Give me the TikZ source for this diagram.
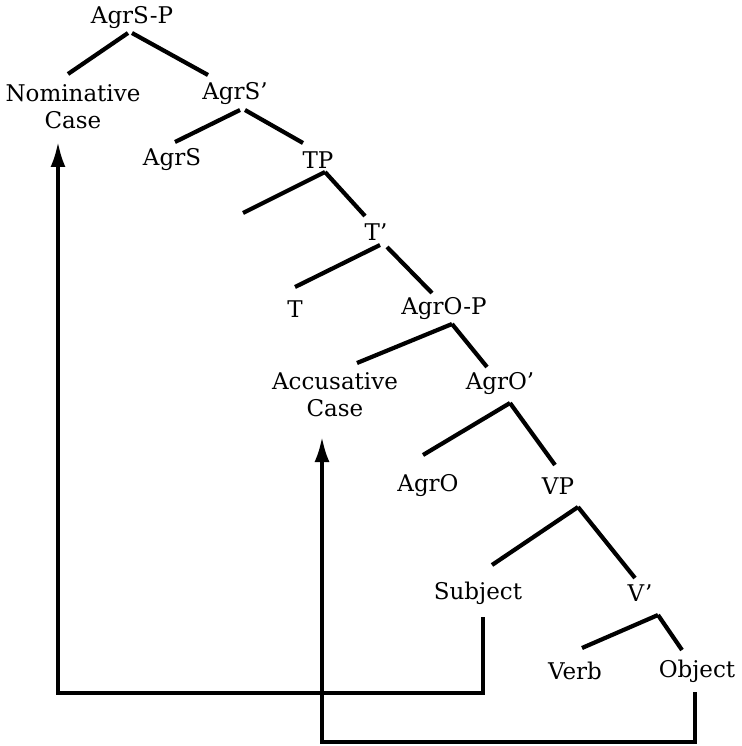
\documentclass[tikz,border=0pt]{standalone}
\usepackage{fontspec}
\setmainfont{DejaVu Serif}
\usetikzlibrary{arrows.meta,calc}
\begin{document}
\begin{tikzpicture}[x=1pt,y=-1pt,
  lbl/.style={inner sep=0pt,anchor=center,align=center,font=\fontsize{23}{27}\selectfont},
  branch/.style={line width=4.2pt},
  movearrow/.style={line width=3.4pt,-{Latex[length=25pt,width=15pt]}}]
\useasboundingbox (0,0) rectangle (741,746);
% nodes
\node[lbl] (AgrSP) at (132,18) {AgrS-P};
\node[lbl] (Nom) at (73,107) {Nominative\\Case};
\node[lbl] (AgrSbar) at (235,94) {AgrS'};
\node[lbl] (AgrS) at (172,160) {AgrS};
\node[lbl] (TP) at (318,160) {TP};
\coordinate (Empty) at (243,213);
\node[lbl] (Tbar) at (376,232) {T'};
\node[lbl] (T) at (295,309) {T};
\node[lbl] (AgrOP) at (444,309) {AgrO-P};
\node[lbl] (Acc) at (335,395) {Accusative\\Case};
\node[lbl] (AgrObar) at (500,384) {AgrO'};
\node[lbl] (AgrO) at (428,486) {AgrO};
\node[lbl] (VP) at (558,486) {VP};
\node[lbl] (Subj) at (478,593) {Subject};
\node[lbl] (Vbar) at (640,593) {V'};
\node[lbl] (Verb) at (575,671) {Verb};
\node[lbl] (Obj) at (697,671) {Object};
% branches
\draw[branch] ([shift={(-4,15)}]AgrSP.center) -- ([shift={(-5,-33)}]Nom.center);
\draw[branch] ([shift={(0,15)}]AgrSP.center) -- ([shift={(-27,-19)}]AgrSbar.center);
\draw[branch] ([shift={(5,16)}]AgrSbar.center) -- ([shift={(3,-18)}]AgrS.center);
\draw[branch] ([shift={(10,16)}]AgrSbar.center) -- ([shift={(-15,-17)}]TP.center);
\draw[branch] ([shift={(7,12)}]TP.center) -- (Empty);
\draw[branch] ([shift={(7,12)}]TP.center) -- ([shift={(-11,-16)}]Tbar.center);
\draw[branch] ([shift={(4,13)}]Tbar.center) -- ([shift={(0,-22)}]T.center);
\draw[branch] ([shift={(11,15)}]Tbar.center) -- ([shift={(-12,-16)}]AgrOP.center);
\draw[branch] ([shift={(8,15)}]AgrOP.center) -- ([shift={(22,-32)}]Acc.center);
\draw[branch] ([shift={(8,15)}]AgrOP.center) -- ([shift={(-13,-17)}]AgrObar.center);
\draw[branch] ([shift={(10,19)}]AgrObar.center) -- ([shift={(-5,-31)}]AgrO.center);
\draw[branch] ([shift={(10,19)}]AgrObar.center) -- ([shift={(-3,-21)}]VP.center);
\draw[branch] ([shift={(20,21)}]VP.center) -- ([shift={(14,-28)}]Subj.center);
\draw[branch] ([shift={(20,21)}]VP.center) -- ([shift={(-5,-15)}]Vbar.center);
\draw[branch] ([shift={(18,22)}]Vbar.center) -- ([shift={(7,-23)}]Verb.center);
\draw[branch] ([shift={(18,22)}]Vbar.center) -- ([shift={(-15,-21)}]Obj.center);
% movement arrows
\coordinate (SubjTurn) at (58,693);
\coordinate (ObjTurn) at (322,742);
\draw[movearrow] ([shift={(5,24)}]Subj.center) |- (SubjTurn) -- ([shift={(-15,35)}]Nom.center);
\draw[movearrow] ([shift={(-2,21)}]Obj.center) |- (ObjTurn) -- ([shift={(-13,42)}]Acc.center);
\end{tikzpicture}
\end{document}
